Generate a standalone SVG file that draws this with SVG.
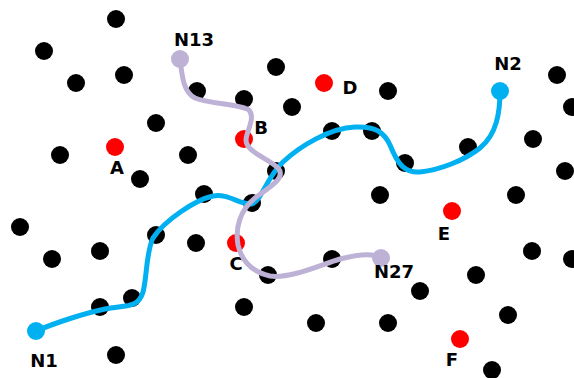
<svg xmlns="http://www.w3.org/2000/svg" width="574" height="378" viewBox="0 0 574 378">
  <style>
    .dot { fill: #000000; }
    .key { fill: #FF0000; }
    .lbl { font-family: "DejaVu Sans", "Liberation Sans", sans-serif; font-weight: bold; font-size: 18px; fill: #000000; text-anchor: middle; }
    .route { fill: none; stroke-width: 5; stroke-linecap: round; stroke-linejoin: round; }
    .blue { stroke: #00B0F0; }
    .lilac { stroke: #BDB1D5; }
  </style>
  <rect width="574" height="378" fill="#FFFFFF"/>

  <!-- field of ordinary nodes -->
  <g id="field">
    <circle class="dot" cx="116" cy="19" r="9"/>
    <circle class="dot" cx="44" cy="51" r="9"/>
    <circle class="dot" cx="76" cy="83" r="9"/>
    <circle class="dot" cx="124" cy="75" r="9"/>
    <circle class="dot" cx="197" cy="91" r="9"/>
    <circle class="dot" cx="244" cy="99" r="9"/>
    <circle class="dot" cx="276" cy="67" r="9"/>
    <circle class="dot" cx="292" cy="107" r="9"/>
    <circle class="dot" cx="156" cy="123" r="9"/>
    <circle class="dot" cx="60" cy="155" r="9"/>
    <circle class="dot" cx="188" cy="155" r="9"/>
    <circle class="dot" cx="140" cy="179" r="9"/>
    <circle class="dot" cx="204" cy="194" r="9"/>
    <circle class="dot" cx="276" cy="171" r="9"/>
    <circle class="dot" cx="388" cy="91" r="9"/>
    <circle class="dot" cx="332" cy="131" r="9"/>
    <circle class="dot" cx="372" cy="131" r="9"/>
    <circle class="dot" cx="405" cy="163" r="9"/>
    <circle class="dot" cx="468" cy="147" r="9"/>
    <circle class="dot" cx="557" cy="75" r="9"/>
    <circle class="dot" cx="572" cy="107" r="9"/>
    <circle class="dot" cx="533" cy="139" r="9"/>
    <circle class="dot" cx="565" cy="171" r="9"/>
    <circle class="dot" cx="380" cy="195" r="9"/>
    <circle class="dot" cx="516" cy="195" r="9"/>
    <circle class="dot" cx="252" cy="203" r="9"/>
    <circle class="dot" cx="20" cy="227" r="9"/>
    <circle class="dot" cx="156" cy="235" r="9"/>
    <circle class="dot" cx="196" cy="243" r="9"/>
    <circle class="dot" cx="100" cy="251" r="9"/>
    <circle class="dot" cx="52" cy="259" r="9"/>
    <circle class="dot" cx="268" cy="275" r="9"/>
    <circle class="dot" cx="132" cy="298" r="9"/>
    <circle class="dot" cx="100" cy="307" r="9"/>
    <circle class="dot" cx="244" cy="307" r="9"/>
    <circle class="dot" cx="116" cy="355" r="9"/>
    <circle class="dot" cx="532" cy="251" r="9"/>
    <circle class="dot" cx="572" cy="259" r="9"/>
    <circle class="dot" cx="332" cy="259" r="9"/>
    <circle class="dot" cx="476" cy="275" r="9"/>
    <circle class="dot" cx="420" cy="291" r="9"/>
    <circle class="dot" cx="508" cy="315" r="9"/>
    <circle class="dot" cx="316" cy="323" r="9"/>
    <circle class="dot" cx="388" cy="323" r="9"/>
    <circle class="dot" cx="492" cy="370" r="9"/>
  </g>

  <!-- labelled landmark nodes -->
  <g id="A"><circle class="key" cx="115" cy="147" r="9"/><text class="lbl" x="117" y="174">A</text></g>
  <g id="B"><circle class="key" cx="244" cy="139" r="9"/><text class="lbl" x="261" y="134">B</text></g>
  <g id="C"><circle class="key" cx="236" cy="243" r="9"/><text class="lbl" x="236" y="270">C</text></g>
  <g id="D"><circle class="key" cx="324" cy="83" r="9"/><text class="lbl" x="350" y="94">D</text></g>
  <g id="E"><circle class="key" cx="452" cy="211" r="9"/><text class="lbl" x="444" y="240">E</text></g>
  <g id="F"><circle class="key" cx="460" cy="339" r="9"/><text class="lbl" x="452" y="366">F</text></g>

  <!-- routes -->
  <g id="connectors">
    <path class="route blue" d="M36,331 C55,323 85,313 105,309 C125,305 138,309 143,292 C147,278 146,252 153,238 C165,220 195,200 213,196 C228,193 240,205 252,204 C262,200 266,178 283,162 C300,146 330,128 355,127 C375,126 384,132 390,145 C398,165 405,173 420,172 C440,170 465,160 480,148 C497,134 500,112 500,91"/>
    <path class="route lilac" d="M180,59 C182,75 183,92 195,98 C210,104 240,104 249,110 C256,118 246,132 246,140 C246,152 268,158 278,168 C287,178 268,188 255,198 C240,210 235,228 238,245 C242,262 252,272 270,276 C290,279 320,265 340,259 C355,255 372,252 381,258"/>
  </g>

  <!-- route endpoints -->
  <g id="N1"><circle cx="36" cy="331" r="9" fill="#00B0F0"/><text class="lbl" x="44" y="367">N1</text></g>
  <g id="N2"><circle cx="500" cy="91" r="9" fill="#00B0F0"/><text class="lbl" x="508" y="70">N2</text></g>
  <g id="N13"><circle cx="180" cy="59" r="9" fill="#BDB1D5"/><text class="lbl" x="194" y="46">N13</text></g>
  <g id="N27"><circle cx="381" cy="258" r="9" fill="#BDB1D5"/><text class="lbl" x="394" y="278">N27</text></g>
</svg>
